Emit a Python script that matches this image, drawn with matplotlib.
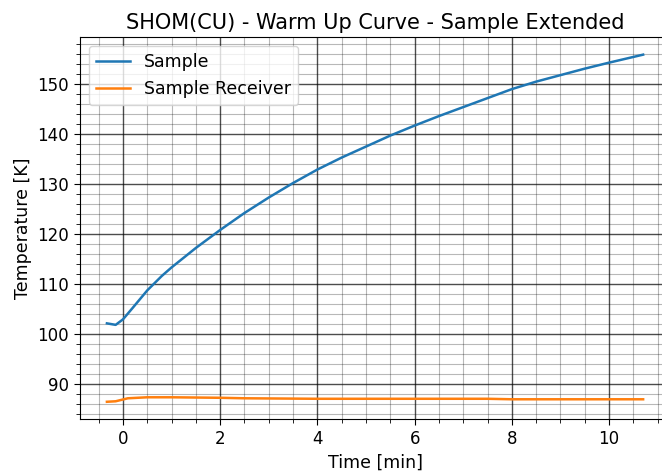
import numpy as np
import matplotlib
matplotlib.use("Agg")
import matplotlib.pyplot as plt
from matplotlib.ticker import MultipleLocator

TITLE = "SHOM(CU) - Warm Up Curve - Sample Extended"

# blue curve: time [min] vs temperature [K]
sample_time = [-0.33, -0.15, 0.0, 0.2, 0.5, 0.8, 1.0, 1.5, 2.0, 2.5, 3.0, 3.5,
               4.0, 4.5, 5.0, 5.5, 6.0, 6.5, 7.0, 7.5, 8.0, 8.5, 9.0, 9.5,
               10.0, 10.7]
sample_temp = [102.1, 101.8, 102.9, 105.2, 108.7, 111.6, 113.3, 117.2, 120.8,
               124.2, 127.3, 130.2, 132.9, 135.3, 137.5, 139.7, 141.7, 143.6,
               145.4, 147.2, 149.0, 150.5, 151.8, 153.1, 154.3, 155.9]

# orange curve
receiver_time = [-0.33, -0.15, 0.1, 0.5, 1.0, 1.5, 2.0, 2.5, 4.0, 6.0, 7.5,
                 8.0, 9.0, 10.7]
receiver_temp = [86.4, 86.5, 87.1, 87.3, 87.3, 87.25, 87.2, 87.1, 87.0, 87.0,
                 87.0, 86.9, 86.9, 86.9]

fig, ax = plt.subplots(figsize=(6.62, 4.72), dpi=100)
fig.subplots_adjust(left=0.121, right=1.012, top=0.921, bottom=0.112)

ax.plot(sample_time, sample_temp, label="Sample", lw=1.8)
ax.plot(receiver_time, receiver_temp, label="Sample Receiver", lw=1.8)

ax.xaxis.set_major_locator(MultipleLocator(2))
ax.xaxis.set_minor_locator(MultipleLocator(0.5))
ax.yaxis.set_major_locator(MultipleLocator(10))
ax.yaxis.set_minor_locator(MultipleLocator(2))
ax.grid(which="major", color="black", lw=1.0, alpha=0.7)
ax.grid(which="minor", color="black", lw=0.8, alpha=0.28)
ax.tick_params(which="major", labelsize=12, length=4.5)
ax.tick_params(which="minor", length=2.7)

ax.set_title(TITLE, fontsize=15)
ax.set_xlabel("Time [min]", fontsize=12.5)
ax.set_ylabel("Temperature [K]", fontsize=12.5)
ax.legend(loc="upper left", fontsize=12.5)

fig.savefig("out.png", dpi=100)
